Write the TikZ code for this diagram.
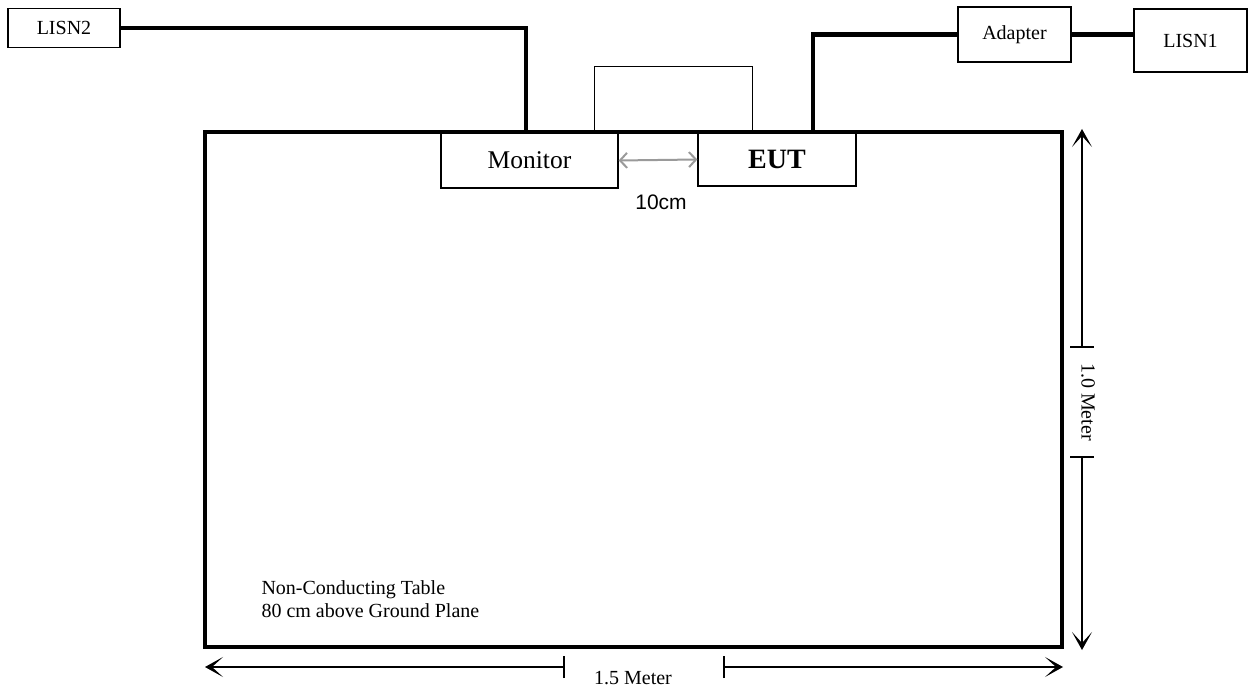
\documentclass[tikz,border=0pt]{standalone}
\usepackage{fontspec}
\setmainfont{Liberation Serif}
\newfontfamily\labelsans{Liberation Sans}
\usetikzlibrary{positioning, arrows.meta, calc}
\definecolor{gapgray}{HTML}{9A9A9A}

\begin{document}
\begin{tikzpicture}[
    x=1pt, y=1pt,
    unit/.style={rectangle, draw=black, line width=1.3pt, inner sep=0pt,
                 font=\fontsize{20}{24}\selectfont},
    cable/.style={line width=4.5pt},
    loopcable/.style={line width=1.5pt},
    gap/.style={{Straight Barb[length=7pt,width=15pt]}-{Straight Barb[length=7pt,width=15pt]},
                line width=2pt, gapgray},
    dim/.style={-{Stealth[length=18pt,width=20pt,inset=11pt]}, line width=1.3pt},
    tick/.style={line width=1.3pt}
  ]
  \useasboundingbox (0,0) rectangle (1249,691);

  % table
  \draw[line width=3.5pt] (205,44) rectangle (1062,559);
  \node[anchor=west, align=left, font=\fontsize{20}{23}\selectfont] (note) at (258,92)
    {Non-Conducting Table\\80 cm above Ground Plane};

  % units on the table
  \node[unit, minimum width=177pt, minimum height=55pt, font=\fontsize{25.5}{30}\selectfont] (mon) at (529.5,530.5) {Monitor};
  \node[unit, minimum width=158pt, minimum height=53pt, font=\fontsize{28}{32}\selectfont\bfseries] (eut) at (777,531.5) {EUT};

  % mains side
  \node[unit, minimum width=112pt, minimum height=39pt] (lisn2) at (64,663) {LISN2};
  \node[unit, minimum width=113pt, minimum height=55pt] (adp) at (1014.5,656.5) {Adapter};
  \node[unit, minimum width=113pt, minimum height=63pt] (lisn1) at (1190.5,650.5) {LISN1};

  \draw[cable] (lisn2.east) -| ([xshift=-3.5pt]mon.north);
  \draw[cable] ([xshift=36pt]eut.north) |- (adp.west);
  \draw[cable] (adp.east) -- (adp.east -| lisn1.west);
  \draw[loopcable] ([xshift=-24pt]mon.north east) -- ++(0,66) -| ([xshift=55pt]eut.north west);

  % 10cm spacing
  \draw[gap] (mon.east) -- (eut.west);
  \node[font=\labelsans\fontsize{21}{24}\selectfont] (gaplbl) at (661,489) {10cm};

  % 1.0 Meter
  \coordinate (rtop) at (1082,562);
  \coordinate (rhi) at (1082,344);
  \coordinate (rlo) at (1082,234);
  \coordinate (rbot) at (1082,41);
  \draw[dim] (rhi) -- (rtop);
  \draw[dim] (rlo) -- (rbot);
  \draw[tick] ([xshift=-12pt]rhi) -- ([xshift=12pt]rhi);
  \draw[tick] ([xshift=-12pt]rlo) -- ([xshift=12pt]rlo);
  \node[rotate=-90, font=\fontsize{20}{24}\selectfont] (hlbl) at (1088,289) {1.0 Meter};

  % 1.5 Meter
  \coordinate (bleft) at (205,24);
  \coordinate (bmidl) at (564,24);
  \coordinate (bmidr) at (724,24);
  \coordinate (bright) at (1063,24);
  \draw[dim] (bmidl) -- (bleft);
  \draw[dim] (bmidr) -- (bright);
  \draw[tick] ([yshift=-11pt]bmidl) -- ([yshift=11pt]bmidl);
  \draw[tick] ([yshift=-11pt]bmidr) -- ([yshift=11pt]bmidr);
  \node[anchor=base, font=\fontsize{20}{24}\selectfont] (wlbl) at (633,7) {1.5 Meter};
\end{tikzpicture}
\end{document}
